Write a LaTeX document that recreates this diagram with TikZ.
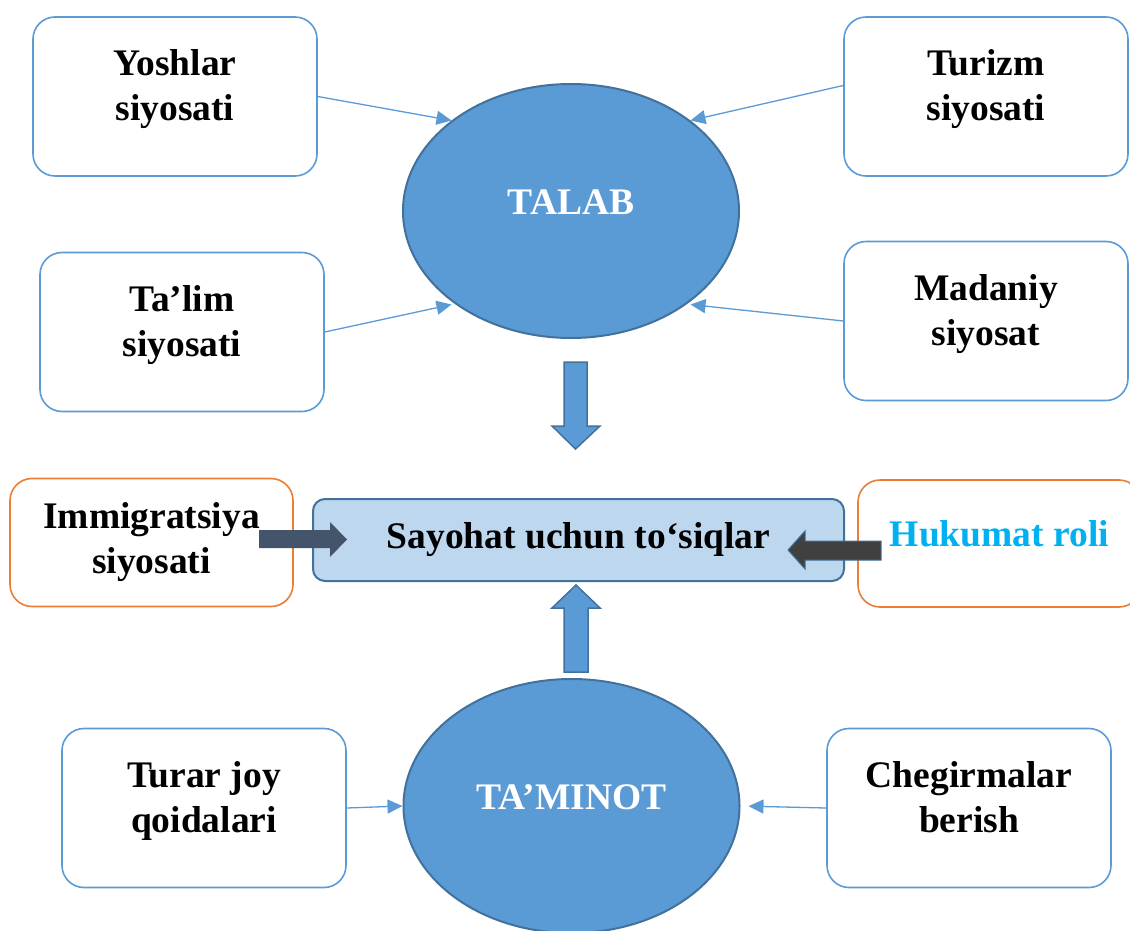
\documentclass[tikz,border=0pt]{standalone}
\usepackage{fontspec}
\setmainfont{Liberation Serif}
\usetikzlibrary{positioning,calc,shapes.geometric,arrows.meta}

\definecolor{boxblue}{HTML}{5B9BD5}
\definecolor{edgeblue}{HTML}{41719C}
\definecolor{paleblue}{HTML}{BDD7EE}
\definecolor{boxorange}{HTML}{ED7D31}
\definecolor{slateblue}{HTML}{44546A}
\definecolor{arrowgray}{HTML}{404040}
\definecolor{rolecyan}{HTML}{00B0F0}

\tikzset{
  policy/.style={draw=boxblue, line width=1.6pt, rounded corners=22pt, fill=white,
    minimum width=284pt, minimum height=159pt, align=center, text depth=23pt},
  factor/.style={draw=boxorange, line width=1.6pt, rounded corners=22pt, fill=white,
    minimum width=283pt, minimum height=128pt, align=center},
  oval/.style={ellipse, draw=edgeblue, line width=2pt, fill=boxblue, text=white,
    minimum width=336pt, minimum height=254pt, inner sep=0pt, text depth=18pt},
  feed/.style={draw=boxblue, line width=1.3pt, -{Triangle[length=15pt,width=14pt]}},
}

\begin{document}
\begin{tikzpicture}[x=1pt,y=-1pt,font=\fontsize{37.5}{45}\selectfont\bfseries]
		\useasboundingbox (0,0) rectangle (1130,931);

		% demand side
		\node[oval] (talab) at (571,211) {TALAB};
		\node[policy] (yoshlar) at (175,96.5) {Yoshlar\\siyosati};
		\node[policy] (turizm) at (986,96.5) {Turizm\\siyosati};
		\node[policy] (talim) at (182,332) {Ta’lim\\siyosati};
		\node[policy] (madaniy) at (986,321) {Madaniy\\siyosat};

		% barriers
		\node[draw=edgeblue, line width=2pt, fill=paleblue, rounded corners=12pt,
			minimum width=531pt, minimum height=82pt, text height=22pt, text depth=5pt] (hub) at (578.5,540) {Sayohat uchun to‘siqlar};
		\node[factor] (immig) at (151.5,542.5) {Immigratsiya\\siyosati};
		\node[factor, text=rolecyan, minimum height=127pt, text depth=20pt] (hukumat) at (999.5,543.5) {Hukumat roli};

		% supply side
		\node[oval] (taminot) at (571.5,806) {TA’MINOT};
		\node[policy] (turar) at (204,808) {Turar joy\\qoidalari};
		\node[policy] (chegirma) at (969,808) {Chegirmalar\\berish};

		\draw[feed] (yoshlar.east) -- (talab.north west);
		\draw[feed] ([yshift=11pt]turizm.west) -- (talab.north east);
		\draw[feed] (talim.east) -- ([yshift=-3pt]talab.south west);
		\draw[feed] (madaniy.west) -- ([yshift=-3pt]talab.south east);
		\draw[feed] (turar.east) -- (taminot.west);
		\draw[feed, shorten >=8pt] (chegirma.west) -- (taminot.east);

		% block arrows
		\filldraw[fill=boxblue, draw=edgeblue, line width=1.5pt]
			(564,362) -- (587,362) -- (587,426) -- (600,426) -- (575.5,449)
			-- (552,426) -- (564,426) -- cycle;
		\filldraw[fill=boxblue, draw=edgeblue, line width=1.5pt]
			(564,672) -- (588,672) -- (588,608) -- (600,608) -- (576,585)
			-- (552,608) -- (564,608) -- cycle;
		\fill[slateblue] (259,530) -- (330,530) -- (330,522) -- (347,539.5)
			-- (330,557) -- (330,548) -- (259,548) -- cycle;
		\filldraw[fill=arrowgray, draw=edgeblue, line width=1pt]
			(881,541) -- (805,541) -- (805,531) -- (788,550) -- (805,569)
			-- (805,560) -- (881,560) -- cycle;
	\end{tikzpicture}
\end{document}
